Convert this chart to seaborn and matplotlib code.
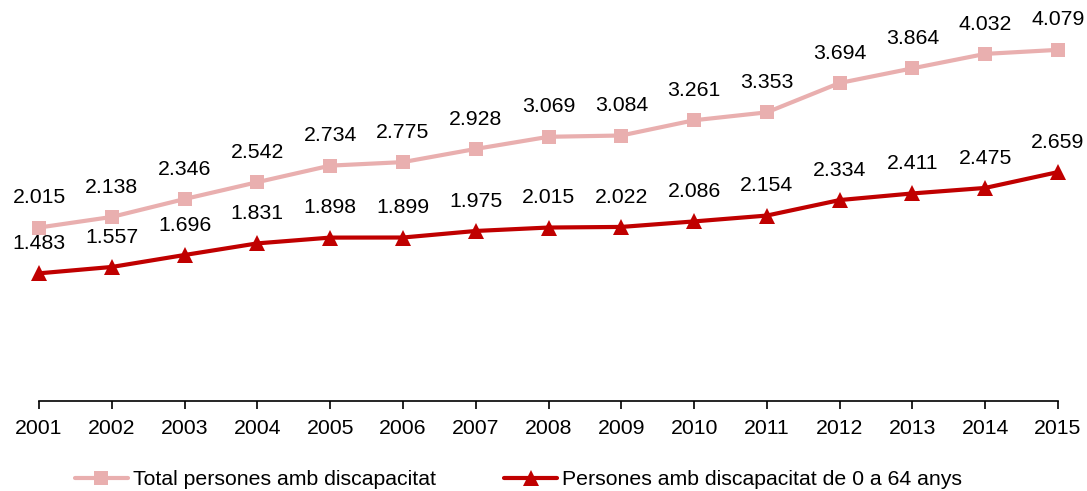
import matplotlib
matplotlib.use("Agg")
import matplotlib.pyplot as plt
import seaborn as sns
import pandas as pd

years = ["2001", "2002", "2003", "2004", "2005", "2006", "2007", "2008",
         "2009", "2010", "2011", "2012", "2013", "2014", "2015"]
total = [2015, 2138, 2346, 2542, 2734, 2775, 2928, 3069,
         3084, 3261, 3353, 3694, 3864, 4032, 4079]
under65 = [1483, 1557, 1696, 1831, 1898, 1899, 1975, 2015,
           2022, 2086, 2154, 2334, 2411, 2475, 2659]

label_total = "Total persones amb discapacitat"
label_under = "Persones amb discapacitat de 0 a 64 anys"

sns.set_theme(style="white")
plt.rcParams["font.family"] = ["Liberation Sans", "DejaVu Sans"]
plt.rcParams["text.color"] = "black"

FS = 15.3

fig = plt.figure(figsize=(10.87, 4.91), dpi=100)
ax = fig.add_axes([0.0359, 0.1833, 0.9374, 0.789])

x = list(range(len(years)))
df = pd.DataFrame({"x": x, "total": total, "under": under65})

series = [
    ("total", label_total, "#E9AFAF", "s", 10),
    ("under", label_under, "#C00000", "^", 11),
]
for col, lab, color, mk, ms in series:
    sns.lineplot(data=df, x="x", y=col, ax=ax, color=color, linewidth=3,
                 marker=mk, markersize=ms, markeredgewidth=0, label=lab,
                 clip_on=False)
    for xi, v in zip(df["x"], df[col]):
        ax.annotate(f"{v:,}".replace(",", "."), (xi, v), xytext=(0, 21.5),
                    textcoords="offset points", ha="center", va="center",
                    fontsize=FS, color="black", annotation_clip=False)

ax.set_xlim(0, len(years) - 1)
ax.set_ylim(0, 4500)
ax.set_xticks(x)
ax.set_xticklabels(years, fontsize=FS, color="black")
ax.set_yticks([])
ax.set_xlabel("")
ax.set_ylabel("")
for s in ["top", "right", "left"]:
    ax.spines[s].set_visible(False)
ax.spines["bottom"].set_color("black")
ax.spines["bottom"].set_linewidth(1.2)
ax.tick_params(axis="x", direction="out", length=6, width=1.2,
               color="black", bottom=True, pad=7)

handles, labels = ax.get_legend_handles_labels()
ax.get_legend().remove()
fig.legend(handles, labels, loc="center", bbox_to_anchor=(0.477, 0.023),
           ncol=2, frameon=False, fontsize=FS, handlelength=2.5,
           handletextpad=0.25, columnspacing=3.2, borderpad=0.0,
           labelcolor="black")

fig.savefig("out.png", dpi=100)
